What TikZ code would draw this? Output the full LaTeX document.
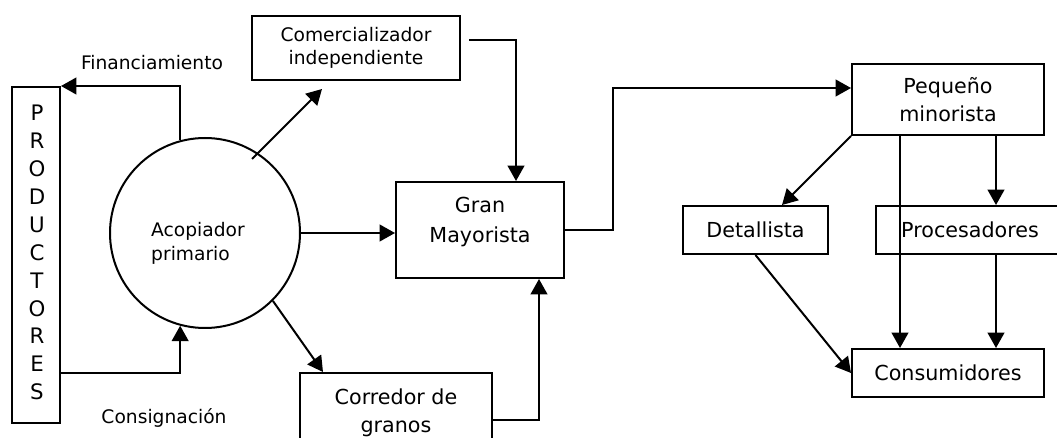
\documentclass[tikz,border=0pt]{standalone}
\usepackage{fontspec}
\setmainfont{DejaVu Sans}
\usetikzlibrary{arrows.meta,calc}

\begin{document}
\begin{tikzpicture}[x=0.75pt,y=-0.75pt,>={Triangle[length=11.5pt,width=12.5pt]},line width=1.5pt]
  \tikzstyle{box}=[draw,rectangle,inner sep=0pt,align=center,font=\fontsize{15.5}{21}\selectfont]
  \tikzstyle{small}=[inner sep=0pt,align=center,font=\fontsize{14}{18}\selectfont]
  \useasboundingbox (0,0) rectangle (1057,438);

  % productores
  \node[box,minimum width=36pt,minimum height=252pt] (prod) at (36,255) {};
  \foreach \l [count=\i from 0] in {P,R,O,D,U,C,T,O,R,E,S}
    \node[small,font=\fontsize{16}{18}\selectfont] (prod\i) at (37,{113+27.9*\i}) {\l};

  % acopiador
  \node[draw,circle,minimum size=142.5pt,inner sep=0pt] (acop) at (205,233) {};
  \node[small,align=left] (acoptxt) at (198,243) {Acopiador\\primario};

  \node[box,minimum width=156pt,minimum height=48pt,font=\fontsize{14}{17.25}\selectfont] (comer) at (356,48) {Comercializador\\independiente};
  \node[box,minimum width=126pt,minimum height=72pt] (gran) at (480,230) {};
  \node[box,draw=none,font=\fontsize{15.5}{22.5}\selectfont] (grantxt) at (480,222) {Gran\\Mayorista};
  \node[box,minimum width=144pt,minimum height=60pt] (corred) at (396,413) {Corredor de\\granos};

  \node[box,minimum width=144pt,minimum height=53.25pt] (pequeno) at (948,99.5) {Pequeño\\minorista};
  \node[box,minimum width=108.75pt,minimum height=36pt] (detall) at (755.5,230) {Detallista};
  \node[box,minimum width=141pt,minimum height=36pt] (proces) at (970,230) {Procesadores};
  \node[box,minimum width=144pt,minimum height=36pt] (consum) at (948,373) {Consumidores};

  \node[small] (fin) at (152,63) {Financiamiento};
  \node[small] (cons) at (164,418) {Consignación};

  % flujos
  \draw[->] (acop.105) |- (prod.north east);
  \draw[->] ($(prod.east)+(0,118)$) -| (acop.255);
  \draw[->] ($(acop.center)+(47,-74)$) -- ($(comer.south)+(-34,8)$);
  \draw[->] (acop.-45) -- ($(corred.north)+(-73,0)$);
  \draw[->] (acop.east) -- (acop.east -| gran.west);
  \draw[->] ($(comer.east)+(8,-8)$) -| ($(gran.north)+(36,0)$);
  \draw[->] ($(corred.east)+(0,7)$) -| ($(gran.south)+(59,0)$);
  \draw[->] (gran.east) -- ++(48,0) |- ($(pequeno.west)+(0,-11.5)$);
  \draw[->] (pequeno.south west) -- ($(detall.north)+(26.5,0)$);
  \draw[->] ($(pequeno.south)+(-48,0)$) -- ($(consum.north)+(-48,0)$);
  \draw[->] ($(pequeno.south)+(48,0)$) -- ($(proces.north)+(26,0)$);
  \draw[->] ($(proces.south)+(26,0)$) -- ($(consum.north)+(48,0)$);
  \draw[->] (detall.south) -- (consum.west);
\end{tikzpicture}
\end{document}
